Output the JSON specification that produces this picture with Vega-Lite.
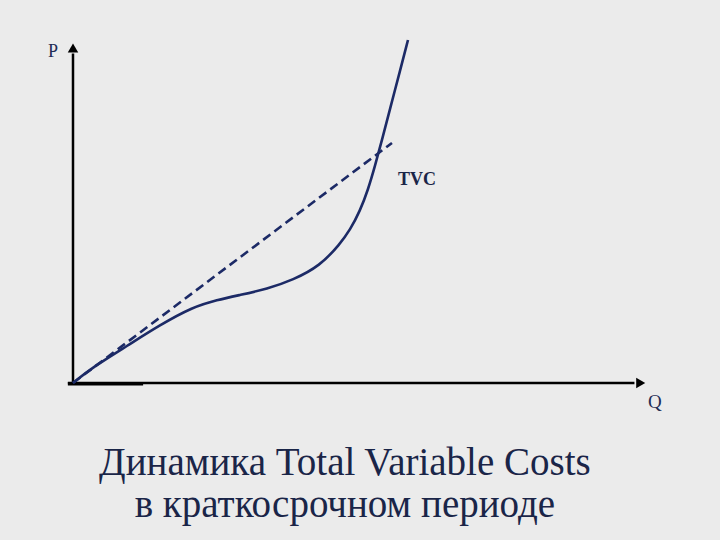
{
  "$schema": "https://vega.github.io/schema/vega-lite/v6.json",
  "width": 720,
  "height": 540,
  "autosize": {"type": "fit", "contains": "padding"},
  "padding": 0,
  "background": "#ebebeb",
  "config": {"view": {"stroke": null}, "axis": {"disable": true}},
  "data": {"values": [{"note": "annotation"}]},
  "datasets": {
    "tvc": [
      {"Q": 0, "P": 0},
      {"Q": 3.51, "P": 4.73},
      {"Q": 9.47, "P": 10.95},
      {"Q": 15.26, "P": 17.16},
      {"Q": 21.05, "P": 22.49},
      {"Q": 25.26, "P": 24.56},
      {"Q": 29.3, "P": 26.04},
      {"Q": 34.04, "P": 27.81},
      {"Q": 38.6, "P": 30.47},
      {"Q": 43.33, "P": 34.62},
      {"Q": 46.84, "P": 41.12},
      {"Q": 48.6, "P": 45.27},
      {"Q": 50.35, "P": 50.89},
      {"Q": 51.75, "P": 57.1},
      {"Q": 52.98, "P": 64.2},
      {"Q": 54.21, "P": 71.89},
      {"Q": 55.61, "P": 81.07},
      {"Q": 57.37, "P": 92.31},
      {"Q": 58.77, "P": 101.48}
    ],
    "ray": [
      {"Q": 0, "P": 0},
      {"Q": 55.96, "P": 71.01}
    ]
  },
  "layer": [
    {
      "mark": {"type": "rule", "color": "#000000", "strokeWidth": 2.5},
      "encoding": {
        "x": {"datum": 0, "type": "quantitative", "scale": {"domain": [-12.807, 113.509], "nice": false, "zero": false}, "axis": null},
        "y": {"datum": 0, "type": "quantitative", "scale": {"domain": [-46.45, 113.31], "nice": false, "zero": false}, "axis": null},
        "y2": {"datum": 97.5}
      }
    },
    {
      "mark": {"type": "rule", "color": "#000000", "strokeWidth": 2.5},
      "encoding": {
        "x": {"datum": -0.9, "type": "quantitative", "axis": null},
        "x2": {"datum": 98.5},
        "y": {"datum": 0, "type": "quantitative", "axis": null}
      }
    },
    {
      "mark": {"type": "rule", "color": "#000000", "strokeWidth": 3.5},
      "encoding": {
        "x": {"datum": -0.9, "type": "quantitative", "axis": null},
        "x2": {"datum": 12.3},
        "y": {"datum": -0.2, "type": "quantitative", "axis": null}
      }
    },
    {
      "mark": {"type": "point", "shape": "triangle-up", "filled": true, "color": "#000000", "size": 110, "opacity": 1},
      "encoding": {"x": {"datum": 0, "type": "quantitative", "axis": null}, "y": {"datum": 99.1, "type": "quantitative", "axis": null}}
    },
    {
      "mark": {"type": "point", "shape": "triangle-right", "filled": true, "color": "#000000", "size": 110, "opacity": 1},
      "encoding": {"x": {"datum": 99.6, "type": "quantitative", "axis": null}, "y": {"datum": 0, "type": "quantitative", "axis": null}}
    },
    {
      "data": {"name": "ray"},
      "mark": {"type": "line", "color": "#1c2a66", "strokeWidth": 2.6, "strokeDash": [9, 5]},
      "encoding": {
        "x": {"field": "Q", "type": "quantitative", "axis": null},
        "y": {"field": "P", "type": "quantitative", "axis": null}
      }
    },
    {
      "data": {"name": "tvc"},
      "mark": {"type": "line", "color": "#1c2a66", "strokeWidth": 2.6, "interpolate": "basis"},
      "encoding": {
        "x": {"field": "Q", "type": "quantitative", "axis": null},
        "y": {"field": "P", "type": "quantitative", "axis": null}
      }
    },
    {
      "mark": {"type": "text", "text": "P", "font": "Liberation Serif", "fontSize": 18, "color": "#1f2d55", "align": "center", "baseline": "alphabetic"},
      "encoding": {"x": {"datum": -3.5, "type": "quantitative", "axis": null}, "y": {"datum": 96.45, "type": "quantitative", "axis": null}}
    },
    {
      "mark": {"type": "text", "text": "Q", "font": "Liberation Serif", "fontSize": 19, "color": "#1f2d55", "align": "center", "baseline": "alphabetic"},
      "encoding": {"x": {"datum": 102.1, "type": "quantitative", "axis": null}, "y": {"datum": -7.5, "type": "quantitative", "axis": null}}
    },
    {
      "mark": {"type": "text", "text": "TVC", "font": "Liberation Serif", "fontSize": 18, "fontWeight": "bold", "color": "#1a2548", "align": "left", "baseline": "alphabetic"},
      "encoding": {"x": {"datum": 57.0, "type": "quantitative", "axis": null}, "y": {"datum": 58.6, "type": "quantitative", "axis": null}}
    },
    {
      "mark": {"type": "text", "text": "Динамика Total Variable Costs", "font": "Liberation Serif", "fontSize": 39, "color": "#1a2548", "align": "center", "baseline": "alphabetic"},
      "encoding": {"x": {"datum": 47.7, "type": "quantitative", "axis": null}, "y": {"datum": -27.3, "type": "quantitative", "axis": null}}
    },
    {
      "mark": {"type": "text", "text": "в краткосрочном периоде", "font": "Liberation Serif", "fontSize": 39, "color": "#1a2548", "align": "center", "baseline": "alphabetic"},
      "encoding": {"x": {"datum": 47.7, "type": "quantitative", "axis": null}, "y": {"datum": -39.6, "type": "quantitative", "axis": null}}
    }
  ]
}
